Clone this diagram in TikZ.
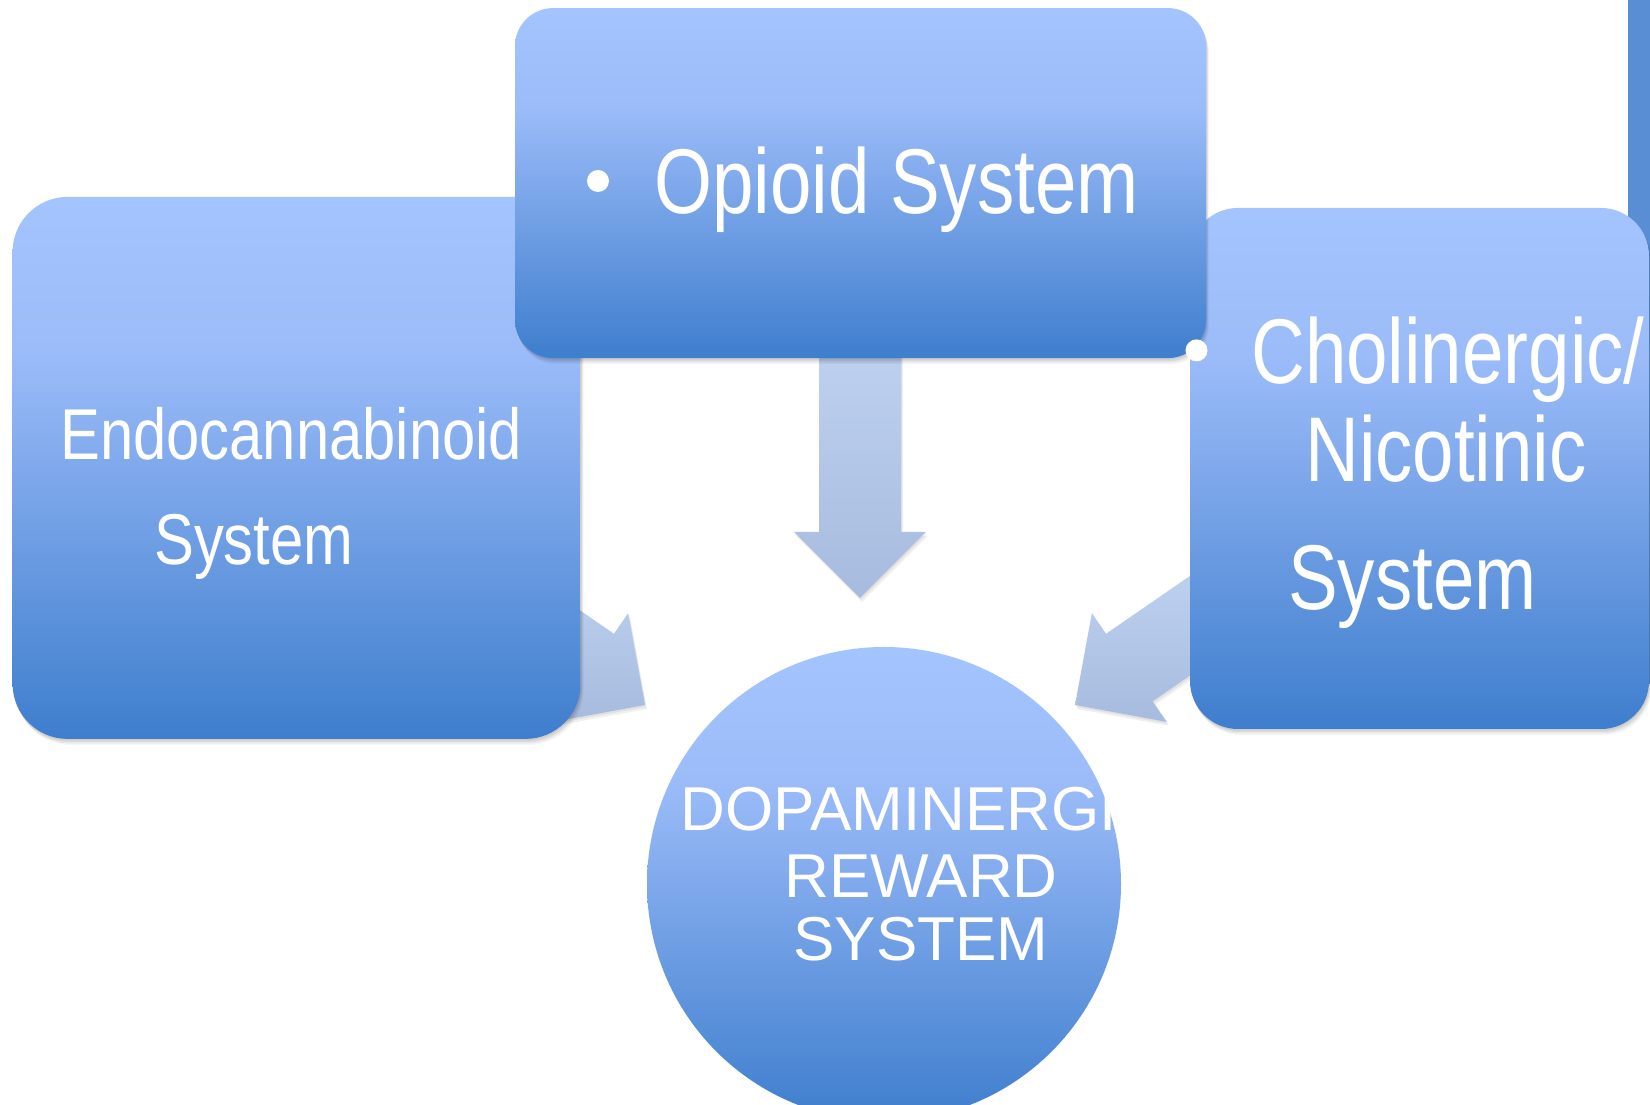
\documentclass[tikz,border=0pt]{standalone}
\usepackage{fontspec}
\setmainfont{Liberation Sans}
\newfontfamily\boxfont[FakeStretch=0.81]{Liberation Sans}
\newfontfamily\midfont[FakeStretch=0.83]{Liberation Sans}
\usetikzlibrary{calc}
\definecolor{glight}{HTML}{A4C4FF}
\definecolor{gmid}{HTML}{9CBCF9}
\definecolor{gdark}{HTML}{3E7ECD}
\definecolor{atop}{HTML}{BFD2F0}
\definecolor{abot}{HTML}{A7BBDF}
\definecolor{barblue}{HTML}{5A8ED4}
\pgfdeclareverticalshading{boxgrad}{100bp}{color(0bp)=(gdark); color(25bp)=(gdark); color(61bp)=(gmid); color(75bp)=(glight); color(100bp)=(glight)}
\newcommand\arrowpts[2]{($(#1)!41pt!90:(#2)$) -- ($(hb)!41pt!90:(#2)$) -- ($(hb)!66pt!90:(#2)$) -- (#2) -- ($(hb)!66pt!-90:(#2)$) -- ($(hb)!41pt!-90:(#2)$) -- ($(#1)!41pt!-90:(#2)$) -- cycle}
\newcommand\blkarrow[2]{%
  \path ($(#2)!66pt!(#1)$) coordinate (hb);
  \fill[black,opacity=0.06,transform canvas={shift={(1pt,-2pt)}}] \arrowpts{#1}{#2};
  \fill[black,opacity=0.06,transform canvas={shift={(2pt,-4pt)}}] \arrowpts{#1}{#2};
  \shade[top color=atop,bottom color=abot] \arrowpts{#1}{#2};
}
\tikzset{
  softshadow/.style={
    preaction={fill=black,opacity=0.04,transform canvas={shift={(3pt,-6pt)}}},
    preaction={fill=black,opacity=0.05,transform canvas={shift={(2pt,-4.5pt)}}},
    preaction={fill=black,opacity=0.06,transform canvas={shift={(1.5pt,-3pt)}}},
    preaction={fill=black,opacity=0.06,transform canvas={shift={(0.7pt,-1.5pt)}}}},
  boxnode/.style={shade,shading=boxgrad,draw=none,inner sep=0pt,outer sep=0pt,softshadow},
  boxtxt/.style={text=white,inner sep=0pt,anchor=base west},
  bigtxt/.style={boxtxt,font=\boxfont\fontsize{92}{92}\selectfont},
  midtxt/.style={boxtxt,font=\midfont\fontsize{72}{72}\selectfont},
  circtxt/.style={text=white,inner sep=0pt,anchor=base,font=\fontsize{62}{62}\selectfont},
  bullet/.style={circle,fill=white,inner sep=0pt,minimum size=22pt}
}
\begin{document}
\begin{tikzpicture}[x=1pt,y=1pt]
\useasboundingbox (0,0) rectangle (1650,1105);
\fill[white] (0,0) rectangle (1650,1105);
% right-edge bar
\fill[barblue] (1628,1105) rectangle (1650,421);
% block arrows
\coordinate (lt) at (484,511); \coordinate (lh) at (645,400);
\coordinate (mt) at (860,775); \coordinate (mh) at (860,507);
\coordinate (rt) at (1236,511); \coordinate (rh) at (1075,400);
\blkarrow{lt}{lh}
\blkarrow{mt}{mh}
\blkarrow{rt}{rh}
% circle
\node (dop) [shade,shading=boxgrad,circle,inner sep=0pt,minimum size=474pt] at (884,221) {};
% boxes
\node (endo) [boxnode,rounded corners=55pt,minimum width=568pt,minimum height=542pt] at (296.6,637.1) {};
\node (chol) [boxnode,rounded corners=48pt,minimum width=459pt,minimum height=521pt] at (1419.5,636.5) {};
\node (opi) [boxnode,rounded corners=38pt,minimum width=691pt,minimum height=350pt] at (860.5,921.9) {};
% texts
\node (t1) [midtxt] at (60,645) {Endocannabinoid};
\node (t2) [midtxt] at (154,540) {System};
\node (b1) [bullet] at (598,924) {};
\node (t3) [bigtxt] at (654,891) {Opioid System};
\node (b2) [bullet] at (1196.5,754.6) {};
\node (t4) [bigtxt] at (1251,721) {Cholinergic/};
\node (t5) [bigtxt] at (1305,623) {Nicotinic};
\node (t6) [bigtxt] at (1288,495) {System};
\node (c1) [circtxt] at (921,274) {DOPAMINERGIC};
\node (c2) [circtxt] at (921,207) {REWARD};
\node (c3) [circtxt] at (921,144) {SYSTEM};
\end{tikzpicture}
\end{document}
